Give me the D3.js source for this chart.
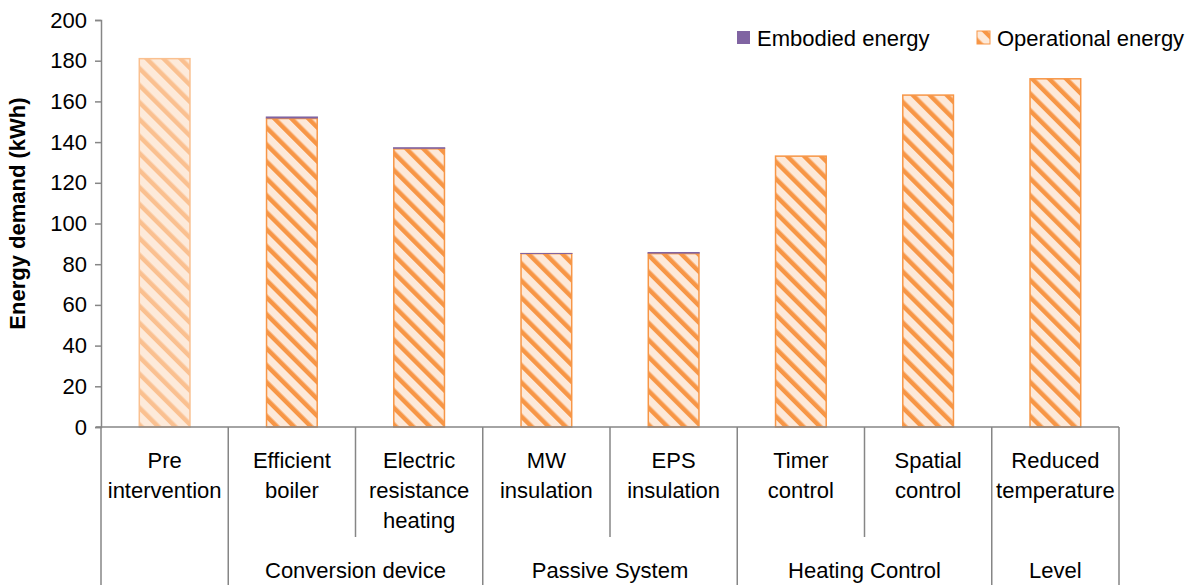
<!DOCTYPE html>
<html><head><meta charset="utf-8">
<script src="https://cdn.jsdelivr.net/npm/d3@7"></script>
<style>
body{margin:0;background:#fff;}
text{font-family:"Liberation Sans Narrow","Arial Narrow","Liberation Sans",Arial,sans-serif;fill:#000;}
</style></head>
<body><svg id="c" width="1191" height="585"></svg>
<script>
const categories = ["Pre intervention","Efficient boiler","Electric resistance heating","MW insulation","EPS insulation","Timer control","Spatial control","Reduced temperature"];
const labelLines = [["Pre","intervention"],["Efficient","boiler"],["Electric","resistance","heating"],["MW","insulation"],["EPS","insulation"],["Timer","control"],["Spatial","control"],["Reduced","temperature"]];
const groups = [{name:"",from:0,to:0},{name:"Conversion device",from:1,to:2},{name:"Passive System",from:3,to:4},{name:"Heating Control",from:5,to:6},{name:"Level",from:7,to:7}];
const operational = [181, 151.6, 136.7, 85.2, 85.2, 133.1, 163.1, 171.1];
const embodied = [0, 1.0, 0.8, 0.3, 0.8, 0, 0, 0];
const yTicks = [0,20,40,60,80,100,120,140,160,180,200];

(function(){
const svg = d3.select("#c");
const pL = 101, pR = 1119, pT = 20, pB = 427;
const x = d3.scaleBand().domain(categories).range([pL,pR]).paddingInner(0.59).paddingOuter(0.295);
const y = d3.scaleLinear().domain([0,200]).range([pB,pT]);
const axisColor = "#868686";

const defs = svg.append("defs");
function pat(id, bg, stripe){
  const p = defs.append("pattern").attr("id",id).attr("patternUnits","userSpaceOnUse")
    .attr("width",12).attr("height",12).attr("patternTransform","rotate(-45)");
  p.append("rect").attr("width",12).attr("height",12).attr("fill",bg);
  p.append("rect").attr("x",0).attr("width",4.5).attr("height",12).attr("fill",stripe);
}
pat("pOp","#FDE9D9","#F79646");
pat("pPre","#FDEADA","#FAC090");

const g = svg.append("g");
categories.forEach((c,i)=>{
  const isPre = i===0;
  g.append("rect").attr("x",x(c)+0.75).attr("width",x.bandwidth()-1.5)
    .attr("y",y(operational[i])).attr("height",y(0)-y(operational[i]))
    .attr("fill",isPre?"url(#pPre)":"url(#pOp)")
    .attr("stroke",isPre?"#FAC090":"#F79646").attr("stroke-width",1.5);
  if(embodied[i]>0){
    g.append("rect").attr("x",x(c)).attr("width",x.bandwidth())
      .attr("y",y(operational[i]+embodied[i])).attr("height",Math.max(1,y(operational[i])-y(operational[i]+embodied[i])))
      .attr("fill","#8064A2");
  }
});

const ya = svg.append("g").attr("transform",`translate(${pL},0)`)
  .call(d3.axisLeft(y).tickValues(yTicks).tickSize(6).tickPadding(8));
ya.select(".domain").attr("stroke",axisColor).attr("stroke-width",1.5);
ya.selectAll(".tick line").attr("stroke",axisColor).attr("stroke-width",1.5);
ya.selectAll(".tick text").style("font-size","22px").attr("fill","#000");

svg.append("text").attr("transform",`translate(25,${(pT+pB)/2-10}) rotate(-90)`)
  .attr("text-anchor","middle").style("font-size","22px").style("font-weight","bold").text("Energy demand (kWh)");

const step = x.step();
const ax = svg.append("g").attr("stroke",axisColor).attr("stroke-width",1.5);
ax.append("line").attr("x1",pL-5).attr("x2",pR).attr("y1",pB).attr("y2",pB);
const bounds = new Set();
groups.forEach(gr=>{ bounds.add(gr.from); bounds.add(gr.to+1); });
for(let i=0;i<=categories.length;i++){
  const xx = pL + i*step;
  ax.append("line").attr("x1",xx).attr("x2",xx).attr("y1",pB).attr("y2",bounds.has(i)?585:537);
}
categories.forEach((c,i)=>{
  const cx = x(c)+x.bandwidth()/2;
  const t = svg.append("text").attr("text-anchor","middle").style("font-size","22px");
  labelLines[i].forEach((ln,k)=>{ t.append("tspan").attr("x",cx).attr("y",468+k*30).text(ln); });
});
groups.forEach(gr=>{
  if(!gr.name) return;
  const cx = pL + (gr.from + gr.to + 1)/2*step;
  svg.append("text").attr("x",cx).attr("y",578).attr("text-anchor","middle").style("font-size","22px").text(gr.name);
});

const lg = svg.append("g");
lg.append("rect").attr("x",737).attr("y",31).attr("width",13).attr("height",13).attr("fill","#8064A2");
lg.append("text").attr("x",757).attr("y",46).style("font-size","22px").text("Embodied energy");
lg.append("rect").attr("x",977).attr("y",31).attr("width",13).attr("height",13).attr("fill","url(#pOp)").attr("stroke","#F79646").attr("stroke-width",1);
lg.append("text").attr("x",997).attr("y",46).style("font-size","22px").text("Operational energy");
})();
</script></body></html>
